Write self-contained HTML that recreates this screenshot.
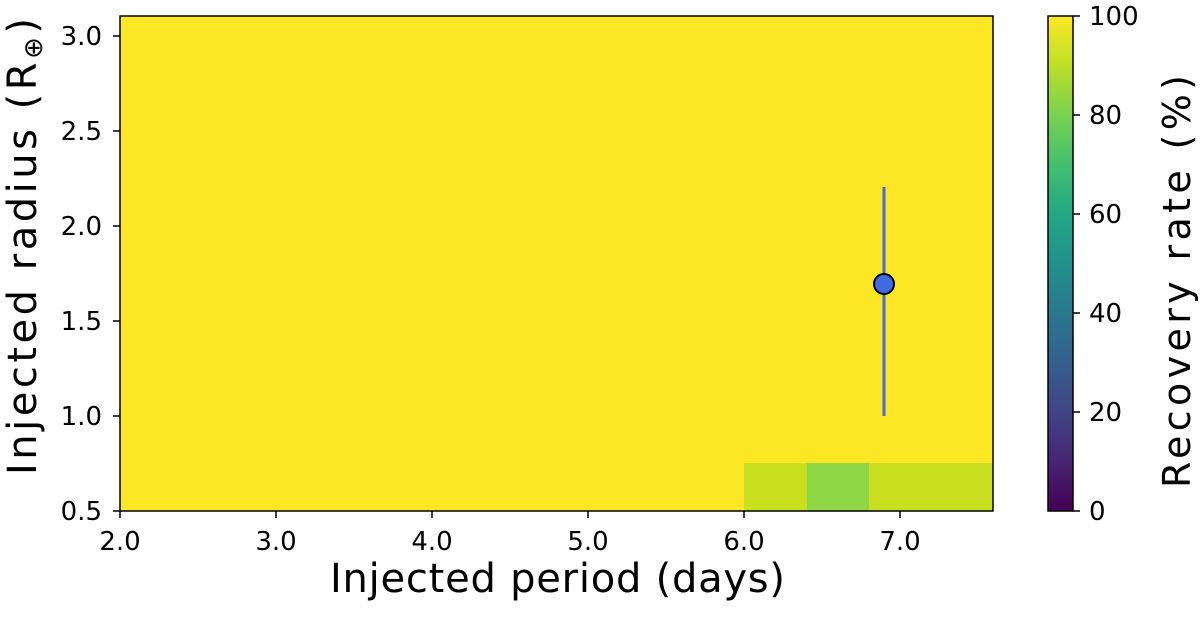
<!DOCTYPE html>
<html><head><style>body{margin:0;background:#fff}</style></head><body>
<svg width="1200" height="614" xmlns="http://www.w3.org/2000/svg" font-family="DejaVu Sans, sans-serif">
<defs><linearGradient id="v" x1="0" y1="1" x2="0" y2="0">
<stop offset="0" stop-color="#440154"/><stop offset="0.1" stop-color="#482475"/><stop offset="0.2" stop-color="#414487"/><stop offset="0.3" stop-color="#355f8d"/><stop offset="0.4" stop-color="#2a788e"/><stop offset="0.5" stop-color="#21918c"/><stop offset="0.6" stop-color="#22a884"/><stop offset="0.7" stop-color="#44bf70"/><stop offset="0.8" stop-color="#7ad151"/><stop offset="0.9" stop-color="#bddf26"/><stop offset="1" stop-color="#fde725"/></linearGradient></defs>
<rect x="120" y="16" width="873" height="495" fill="#fde725"/>
<rect x="744" y="463" width="249" height="48" fill="#c8e020"/>
<rect x="807" y="463" width="62" height="48" fill="#8fd744"/>
<line x1="884" y1="187" x2="884" y2="416" stroke="#4169e1" stroke-width="3"/>
<circle cx="884" cy="284" r="10" fill="#4169e1" stroke="#000" stroke-width="2"/>
<rect x="120" y="16" width="873" height="495" fill="none" stroke="#000" stroke-width="1.5"/>
<g stroke="#000" stroke-width="1.5">
<line x1="120" y1="511" x2="120" y2="518"/><line x1="276" y1="511" x2="276" y2="518"/><line x1="432" y1="511" x2="432" y2="518"/><line x1="588" y1="511" x2="588" y2="518"/><line x1="744" y1="511" x2="744" y2="518"/><line x1="900" y1="511" x2="900" y2="518"/>
<line x1="113" y1="511" x2="120" y2="511"/><line x1="113" y1="416" x2="120" y2="416"/><line x1="113" y1="321" x2="120" y2="321"/><line x1="113" y1="226" x2="120" y2="226"/><line x1="113" y1="131" x2="120" y2="131"/><line x1="113" y1="36" x2="120" y2="36"/>
</g>
<g font-size="26" fill="#000" text-anchor="middle">
<text x="120" y="550">2.0</text><text x="276" y="550">3.0</text><text x="432" y="550">4.0</text><text x="588" y="550">5.0</text><text x="744" y="550">6.0</text><text x="900" y="550">7.0</text>
</g>
<g font-size="26" fill="#000" text-anchor="end">
<text x="102" y="520">0.5</text><text x="102" y="425">1.0</text><text x="102" y="330">1.5</text><text x="102" y="235">2.0</text><text x="102" y="140">2.5</text><text x="102" y="45">3.0</text>
</g>
<text x="330" y="592" font-size="40" textLength="455" lengthAdjust="spacing">Injected period (days)</text>
<text transform="translate(36,475) rotate(-90)" font-size="40" textLength="457" lengthAdjust="spacing">Injected radius (R<tspan font-size="26" dy="6">⊕</tspan><tspan dy="-6">)</tspan></text>
<rect x="1048" y="16" width="25" height="495" fill="url(#v)" stroke="#000" stroke-width="1.5"/>
<g stroke="#000" stroke-width="1.5">
<line x1="1073" y1="16" x2="1080" y2="16"/><line x1="1073" y1="115" x2="1080" y2="115"/><line x1="1073" y1="214" x2="1080" y2="214"/><line x1="1073" y1="313" x2="1080" y2="313"/><line x1="1073" y1="412" x2="1080" y2="412"/><line x1="1073" y1="511" x2="1080" y2="511"/>
</g>
<g font-size="26" fill="#000">
<text x="1089" y="25">100</text><text x="1089" y="124">80</text><text x="1089" y="223">60</text><text x="1089" y="322">40</text><text x="1089" y="421">20</text><text x="1089" y="520">0</text>
</g>
<text transform="translate(1190,488) rotate(-90)" font-size="38" textLength="413" lengthAdjust="spacing">Recovery rate (%)</text>
</svg>
</body></html>
